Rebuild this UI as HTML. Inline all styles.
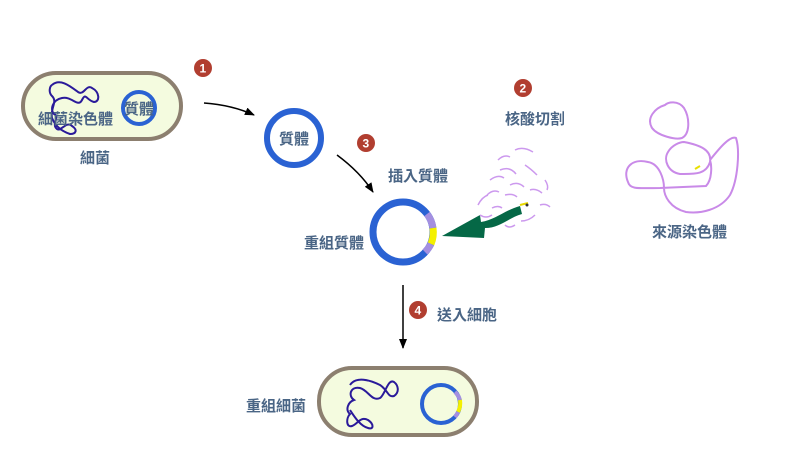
<!DOCTYPE html>
<html><head><meta charset="utf-8"><style>
html,body{margin:0;padding:0;background:#fff;}
svg{display:block;}
text{font-family:"Liberation Sans","Noto Sans CJK TC",sans-serif;fill:#4a6585;font-size:15px;font-weight:bold;}
.b{fill:#fff;font-size:12px;font-weight:bold;}
</style></head><body>
<svg width="798" height="470" viewBox="0 0 798 470" xmlns="http://www.w3.org/2000/svg">
<defs><marker id="ah" markerWidth="10" markerHeight="8" refX="9" refY="4" orient="auto" markerUnits="userSpaceOnUse"><path d="M0,0 L10,4 L0,8 Z" fill="#000"/></marker></defs>
<rect x="23" y="73" width="158" height="66" rx="33" fill="#f4fbdf" stroke="#8c7f6f" stroke-width="4"/>
<path d="M52,85 C60,78 70,86 78,92 C84,96 86,84 92,88 C100,92 100,102 94,102 C86,100 86,92 82,100 C78,108 72,96 62,98 C52,100 50,110 54,114 C60,116 52,124 56,128 C60,134 66,120 72,126 C78,130 76,134 70,134 C64,132 56,128 52,118 C50,108 58,102 52,96 C48,92 50,86 52,85" fill="none" stroke="#2a1a9a" stroke-width="2"/>
<circle cx="139" cy="108" r="16" fill="none" stroke="#2a62d3" stroke-width="4"/>
<text x="38" y="124">細菌染色體</text>
<text x="124" y="114">質體</text>
<text x="80" y="163">細菌</text>
<circle cx="203" cy="68" r="9" fill="#b13e30"/><text class="b" x="199.5" y="72.5">1</text>
<path d="M204,103 Q232,105 254,115" fill="none" stroke="#000" stroke-width="1.5" marker-end="url(#ah)"/>
<circle cx="294" cy="138" r="27" fill="none" stroke="#2a62d3" stroke-width="6"/>
<text x="279" y="144">質體</text>
<circle cx="366" cy="143" r="9" fill="#b13e30"/><text class="b" x="362.5" y="147.5">3</text>
<path d="M337,155 Q360,172 373,192" fill="none" stroke="#000" stroke-width="1.5" marker-end="url(#ah)"/>
<text x="388" y="181">插入質體</text>
<circle cx="403" cy="232" r="30" fill="none" stroke="#2a62d3" stroke-width="7"/>
<path d="M427,214 A30,30 0 0 1 433,228" fill="none" stroke="#a48fe0" stroke-width="7"/>
<path d="M433,228 A30,30 0 0 1 431,244" fill="none" stroke="#f4f000" stroke-width="7"/>
<path d="M431,244 A30,30 0 0 1 425,252" fill="none" stroke="#a48fe0" stroke-width="7"/>
<text x="304" y="248">重組質體</text>
<path d="M442,236 L480,215 L481,222 C495,220 505,210 520,206 L522,214 C508,218 500,228 485,228 L484,238 Z" fill="#056846"/>
<g fill="none" stroke="#cc99ee" stroke-width="1.5">
<path d="M515,150 q8,-4 18,2"/><path d="M498,160 q6,-6 12,-3"/><path d="M500,170 q10,-4 16,4"/><path d="M525,165 q6,4 12,10"/>
<path d="M490,180 q8,-6 14,-2"/><path d="M510,185 q8,-4 14,2"/><path d="M487,195 q6,-6 12,-3"/><path d="M530,190 q6,-2 12,3"/>
<path d="M505,195 q8,-2 12,2"/><path d="M478,205 q4,-8 10,-10"/><path d="M540,205 q6,-2 10,2"/><path d="M535,215 q-6,6 -14,6"/>
<path d="M515,225 q-6,4 -10,0"/><path d="M480,215 q6,4 12,0"/><path d="M545,180 q4,6 2,10"/><path d="M492,208 q6,-3 10,0"/>
</g>
<path d="M520,205 l8,-2" stroke="#e8d800" stroke-width="2"/><circle cx="527" cy="205" r="1.5" fill="#333"/>
<circle cx="523" cy="88" r="9" fill="#b13e30"/><text class="b" x="519.5" y="92.5">2</text>
<text x="505" y="124">核酸切割</text>
<path d="M665,105 C655,108 646,118 652,128 C658,136 676,140 682,138 C690,134 690,118 684,108 C678,100 668,102 665,105 Z M684,142 C700,145 712,150 710,162 C706,175 694,174 680,174 C668,172 663,160 668,152 C672,145 680,142 684,142 Z M710,160 C718,150 730,135 736,138 C740,150 738,180 730,195 C720,210 700,214 686,212 C670,208 664,196 664,188 C664,180 660,164 648,162 C632,158 622,168 628,182 C630,190 640,188 660,188 L706,186 C712,180 712,166 710,160" fill="none" stroke="#c98ae8" stroke-width="2"/>
<path d="M695,169 l5,-3" stroke="#e8e000" stroke-width="2"/>
<text x="652" y="237">來源染色體</text>
<circle cx="418" cy="310" r="9" fill="#b13e30"/><text class="b" x="414.5" y="314.5">4</text>
<text x="437" y="320">送入細胞</text>
<line x1="403" y1="285" x2="403" y2="348" stroke="#000" stroke-width="1.5" marker-end="url(#ah)"/>
<rect x="319" y="368" width="158" height="67" rx="33" fill="#f4fbdf" stroke="#8c7f6f" stroke-width="4"/>
<path d="M350,385 C356,376 370,380 380,385 C388,390 388,398 394,396 C400,392 398,385 394,382 C388,378 385,395 380,398 C372,402 368,390 360,388 C350,386 348,396 354,400 C348,402 345,410 350,414 C346,418 346,428 352,426 C358,424 360,416 368,420 C374,424 374,430 368,428 C360,426 354,416 350,410" fill="none" stroke="#2a1a9a" stroke-width="2"/>
<circle cx="441" cy="404" r="19" fill="none" stroke="#2a62d3" stroke-width="4"/>
<path d="M455,392 A19,19 0 0 1 460,400" fill="none" stroke="#a48fe0" stroke-width="4"/>
<path d="M460,400 A19,19 0 0 1 458,412" fill="none" stroke="#f4f000" stroke-width="4"/>
<path d="M458,412 A19,19 0 0 1 455,417" fill="none" stroke="#a48fe0" stroke-width="4"/>
<text x="246" y="411">重組細菌</text>
</svg>
</body></html>
